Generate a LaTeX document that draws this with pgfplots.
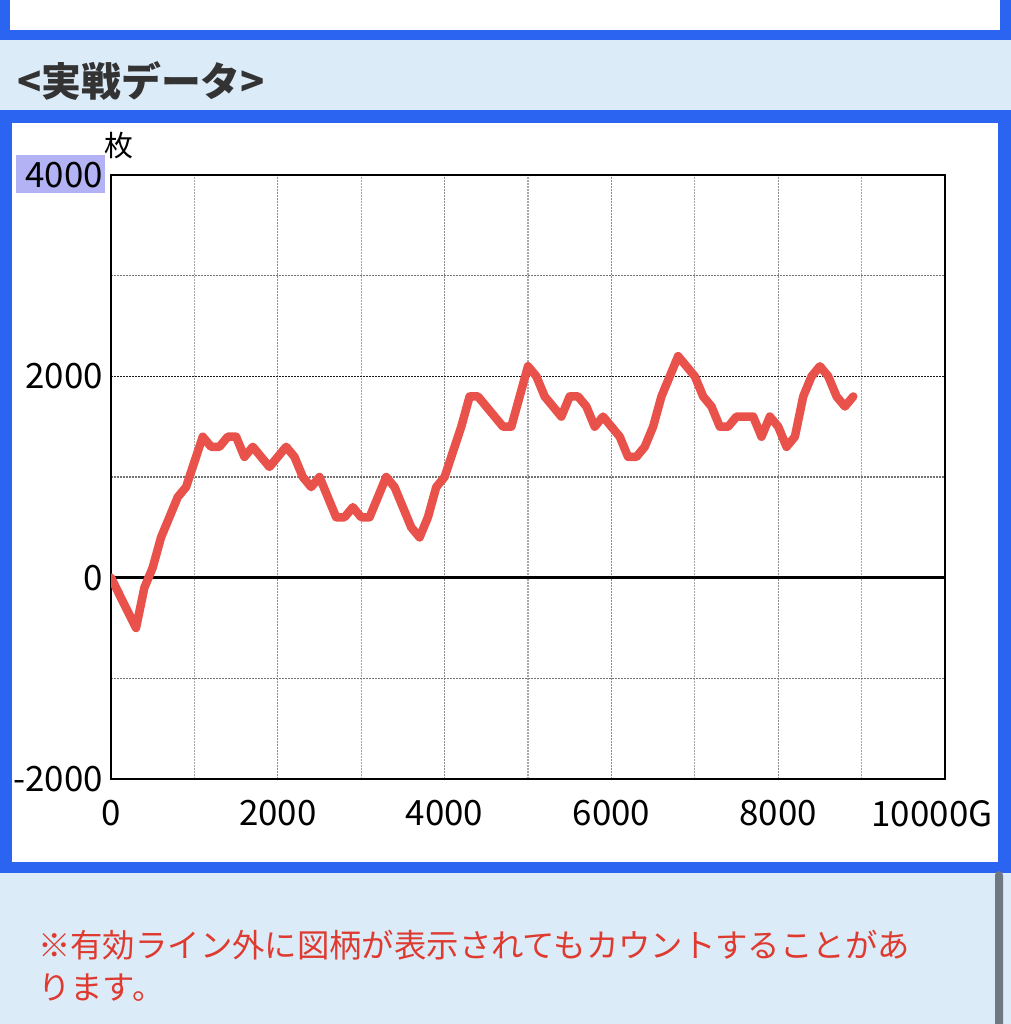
\documentclass[border=0pt]{standalone}
\usepackage{fontspec}
\setmainfont{Noto Sans CJK JP}
\usepackage{pgfplots}
\pgfplotsset{compat=1.18}

\definecolor{frameblue}{HTML}{2C64F2}
\definecolor{paleblue}{HTML}{DCEBF8}
\definecolor{linered}{HTML}{E8524A}
\definecolor{notered}{HTML}{DF3A2F}
\definecolor{titlegray}{HTML}{333333}
\definecolor{selbg}{HTML}{B2B2F4}
\definecolor{scrollgray}{HTML}{6F7782}

% coin balance (枚) against games played (G)
\pgfplotstableread{
g     coins
0     0
300   -500
400   -100
500   100
600   400
800   800
900   900
1100  1400
1200  1300
1300  1300
1400  1400
1500  1400
1600  1200
1700  1300
1900  1100
2100  1300
2200  1200
2300  1000
2400  900
2500  1000
2700  600
2800  600
2900  700
3000  600
3100  600
3300  1000
3400  900
3600  500
3700  400
3800  600
3900  900
4000  1000
4200  1500
4300  1800
4400  1800
4700  1500
4800  1500
5000  2100
5100  2000
5200  1800
5400  1600
5500  1800
5600  1800
5700  1700
5800  1500
5900  1600
6000  1500
6100  1400
6200  1200
6300  1200
6400  1300
6500  1500
6600  1800
6800  2200
7000  2000
7100  1800
7200  1700
7300  1500
7400  1500
7500  1600
7700  1600
7800  1400
7900  1600
8000  1500
8100  1300
8200  1400
8300  1800
8400  2000
8500  2100
8600  2000
8700  1800
8800  1700
8900  1800
}\coindata

\begin{document}
\begin{tikzpicture}
\useasboundingbox (0bp,0bp) rectangle (1011bp,1024bp);
% page background
\fill[paleblue] (0bp,0bp) rectangle (1011bp,1024bp);
% box above the heading
\fill[frameblue] (0bp,984bp) rectangle (1011bp,1030bp);
\fill[white] (10bp,994bp) rectangle (1000bp,1030bp);
% heading
\node[anchor=west, inner sep=0pt, text=titlegray, font=\fontsize{40}{40}\selectfont\bfseries]
  at (17bp,943bp) {<実戦データ>};
% framed chart panel
\fill[frameblue] (0bp,151bp) rectangle (1011bp,914bp);
\fill[white] (12bp,162bp) rectangle (998bp,901bp);
% selection highlight behind the top tick label
\fill[selbg] (16bp,831bp) rectangle (105bp,869bp);
% unit label
\node[inner sep=0pt, font=\fontsize{29}{29}\selectfont] at (119bp,878bp) {枚};

\begin{axis}[
  at={(111bp,245bp)}, anchor=south west,
  scale only axis, width=834bp, height=604bp,
  xmin=0, xmax=10000, ymin=-2000, ymax=4000,
  axis line style={black, line width=1.5bp},
  xtick={0,2000,...,8000},
  minor xtick={1000,3000,...,9000},
  extra x ticks={10000}, extra x tick labels={10000G},
  extra x tick style={xmajorgrids=false, xticklabel style={xshift=-13bp}},
  ytick={-2000,0,2000,4000},
  minor ytick={-1000,1000,3000},
  major tick length=0pt, minor tick length=0pt,
  xmajorgrids, xminorgrids, ymajorgrids, yminorgrids,
  major x grid style={color=black!45, line width=1.2bp, dash pattern=on 1.5bp off 1.5bp},
  minor x grid style={color=black!35, line width=1.2bp, dash pattern=on 1.5bp off 1.5bp},
  major y grid style={color=black!90, line width=1.3bp, dash pattern=on 1.5bp off 1.5bp},
  minor y grid style={color=black!55, line width=1.2bp, dash pattern=on 1.5bp off 1.5bp},
  scaled ticks=false,
  /pgf/number format/.cd, assume math mode=true, 1000 sep={}, /pgfplots/.cd,
  tick label style={font=\fontsize{35}{35}\selectfont, inner sep=0pt},
  xticklabel style={anchor=north, yshift=-21bp},
  yticklabel style={anchor=east, xshift=-8bp},
]
\draw[black, line width=2.5bp] (axis cs:0,0) -- (axis cs:10000,0);
\addplot[linered, line width=8.5bp, line join=round, line cap=round] table[x=g, y=coins] {\coindata};
\end{axis}

% note under the chart
\node[anchor=west, inner sep=0pt, text=notered, font=\fontsize{32.5}{32.5}\selectfont]
  at (38bp,79bp) {※有効ライン外に図柄が表示されてもカウントすることがあ};
\node[anchor=west, inner sep=0pt, text=notered, font=\fontsize{32.5}{32.5}\selectfont]
  at (38bp,36bp) {ります。};
% scrollbar
\fill[scrollgray, rounded corners=4bp] (995bp,-10bp) rectangle (1003bp,153bp);
\end{tikzpicture}
\end{document}
